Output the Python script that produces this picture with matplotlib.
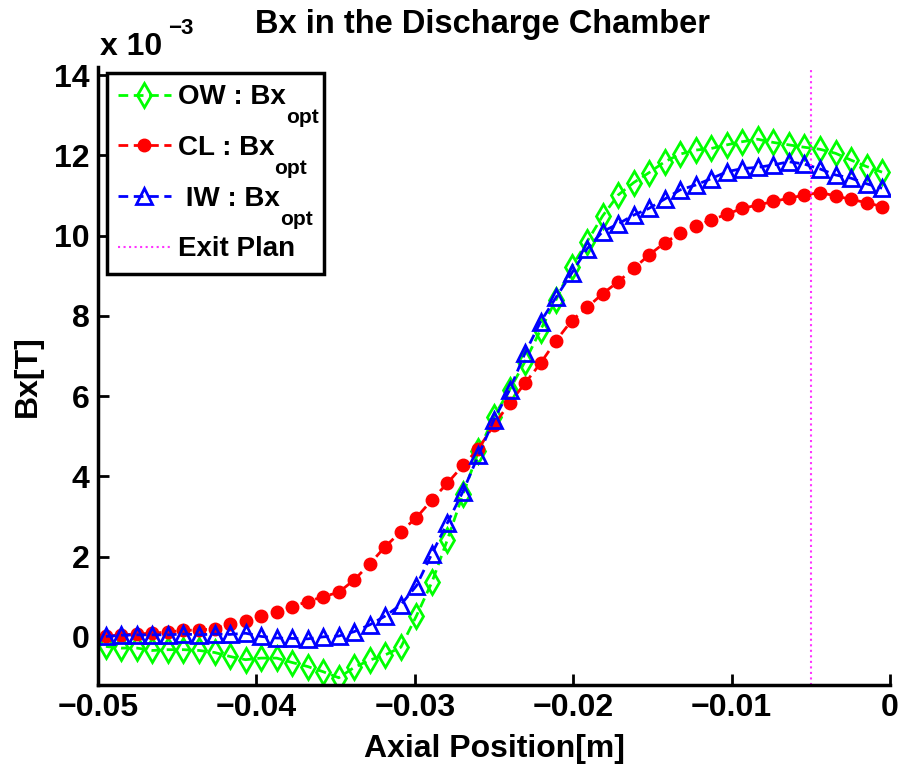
import matplotlib
matplotlib.use("Agg")
import matplotlib.pyplot as plt

plt.rcParams['font.family'] = ['Liberation Sans', 'DejaVu Sans']
plt.rcParams['font.weight'] = 'bold'

# axial positions [m]
x_pos = [-0.04950, -0.04852, -0.04754, -0.04656, -0.04558, -0.04460, -0.04362,
         -0.04264, -0.04166, -0.04068, -0.03970, -0.03872, -0.03774, -0.03676,
         -0.03578, -0.03480, -0.03382, -0.03284, -0.03186, -0.03088, -0.02990,
         -0.02892, -0.02794, -0.02696, -0.02598, -0.02500, -0.02402, -0.02304,
         -0.02206, -0.02108, -0.02010, -0.01912, -0.01814, -0.01716, -0.01618,
         -0.01520, -0.01422, -0.01324, -0.01226, -0.01128, -0.01030, -0.00932,
         -0.00834, -0.00736, -0.00638, -0.00540, -0.00442, -0.00344, -0.00246,
         -0.00148, -0.00050]

# Bx values in units of 1e-3 T
bx_ow = [-0.24, -0.28, -0.28, -0.34, -0.32, -0.32, -0.34, -0.39, -0.49, -0.57,
         -0.53, -0.53, -0.64, -0.74, -0.87, -1.02, -0.76, -0.58, -0.45, -0.26,
         0.52, 1.36, 2.42, 3.55, 4.62, 5.49, 6.15, 6.86, 7.65, 8.40,
         9.22, 9.85, 10.49, 11.01, 11.32, 11.57, 11.84, 12.03, 12.13, 12.17,
         12.26, 12.34, 12.40, 12.32, 12.26, 12.20, 12.15, 12.05, 11.88, 11.72,
         11.58]
bx_cl = [0.01, 0.05, 0.07, 0.09, 0.12, 0.16, 0.17, 0.20, 0.32, 0.40,
         0.52, 0.61, 0.75, 0.88, 1.00, 1.11, 1.42, 1.82, 2.25, 2.62,
         2.97, 3.41, 3.83, 4.27, 4.69, 5.28, 5.82, 6.32, 6.82, 7.38,
         7.88, 8.21, 8.55, 8.85, 9.18, 9.52, 9.82, 10.06, 10.24, 10.39,
         10.53, 10.68, 10.76, 10.85, 10.93, 11.01, 11.07, 10.99, 10.90, 10.82,
         10.72]
bx_iw = [0.01, 0.04, 0.05, 0.05, 0.05, 0.07, 0.05, 0.07, 0.06, 0.09,
         0.01, -0.03, -0.04, -0.05, 0.00, 0.02, 0.13, 0.30, 0.52, 0.80,
         1.27, 2.07, 2.84, 3.62, 4.53, 5.41, 6.15, 7.07, 7.85, 8.46,
         9.06, 9.67, 10.10, 10.29, 10.51, 10.68, 10.91, 11.14, 11.26, 11.42,
         11.59, 11.67, 11.70, 11.76, 11.84, 11.78, 11.66, 11.51, 11.43, 11.29,
         11.18]
exit_plane = -0.005

series_labels = ['OW : Bx', 'CL : Bx', ' IW : Bx', 'Exit Plan']
label_subscripts = ['opt', 'opt', 'opt', '']
y_ticks = [0, 2, 4, 6, 8, 10, 12, 14]
x_ticks = [-0.05, -0.04, -0.03, -0.02, -0.01, 0]
x_ticklabels = ['\u22120.05', '\u22120.04', '\u22120.03', '\u22120.02', '\u22120.01', '0']

scale = 1e-3

fig = plt.figure(figsize=(9.02, 7.65), dpi=100)
ax = fig.add_axes([0.1086, 0.1046, 0.8781, 0.8078])

dash = (3.5, 2.0)
l1, = ax.plot(x_pos, [v * scale for v in bx_ow], color=(0, 1, 0), ls='--', dashes=dash,
              lw=2, marker='d', ms=12, mfc='none', mew=2)
l2, = ax.plot(x_pos, [v * scale for v in bx_cl], color=(1, 0, 0), ls='--', dashes=dash,
              lw=2, marker='o', ms=9, mfc=(1, 0, 0), mew=1)
l3, = ax.plot(x_pos, [v * scale for v in bx_iw], color=(0, 0, 1), ls='--', dashes=dash,
              lw=2, marker='^', ms=11, mfc='none', mew=2)
l4 = ax.axvline(exit_plane, color=(1, 0.2, 1), ls=':', lw=1.5)

ax.set_xlim(-0.05, 0)
ax.set_ylim(-1.2 * scale, 14.2 * scale)
ax.set_xticks(x_ticks)
ax.set_xticklabels(x_ticklabels)
ax.set_yticks([t * scale for t in y_ticks])
ax.set_yticklabels([str(t) for t in y_ticks])

for s in ['top', 'right']:
    ax.spines[s].set_visible(False)
for s in ['left', 'bottom']:
    ax.spines[s].set_linewidth(2.5)
ax.tick_params(direction='in', length=8, width=2, labelsize=23, pad=6)
for lab in ax.get_xticklabels() + ax.get_yticklabels():
    lab.set_fontweight('bold')

ax.set_xlabel('Axial Position[m]', fontsize=23, fontweight='bold', labelpad=8)
ax.set_ylabel('Bx[T]', fontsize=23, fontweight='bold', labelpad=8)
fig.text(0.535, 0.968, 'Bx in the Discharge Chamber', fontsize=23.5, fontweight='bold',
         ha='center', va='center')
fig.text(0.111, 0.938, 'x 10', fontsize=23, fontweight='bold', ha='left', va='center')
fig.text(0.186, 0.963, '\u22123', fontsize=16, fontweight='bold', ha='left', va='center')

leg = ax.legend(handles=[l1, l2, l3, l4], labels=series_labels, loc='upper left', fontsize=20,
                bbox_to_anchor=(0.011, 0.0, 0.275, 0.990), mode='expand',
                frameon=True, fancybox=False,
                edgecolor='black', framealpha=1, handlelength=1.9, handletextpad=0.25,
                labelspacing=0.89, borderpad=0.4, borderaxespad=0.0)
leg.get_frame().set_linewidth(2.5)
for t in leg.get_texts():
    t.set_fontweight('bold')

# subscripts placed just after each label, below its baseline, as in the original
fig.canvas.draw()
renderer = fig.canvas.get_renderer()
for t, lab, sub in zip(leg.get_texts(), series_labels, label_subscripts):
    if not sub:
        continue
    bb = t.get_window_extent(renderer)
    w, h, d = renderer.get_text_width_height_descent(lab, t.get_fontproperties(), ismath=False)
    baseline = bb.y0 + d
    fig.text((bb.x0 + w + 0.5) / fig.bbox.width, (baseline - 13) / fig.bbox.height, sub,
             fontsize=15, fontweight='bold', ha='left', va='baseline')

fig.savefig('out.png', dpi=100)
